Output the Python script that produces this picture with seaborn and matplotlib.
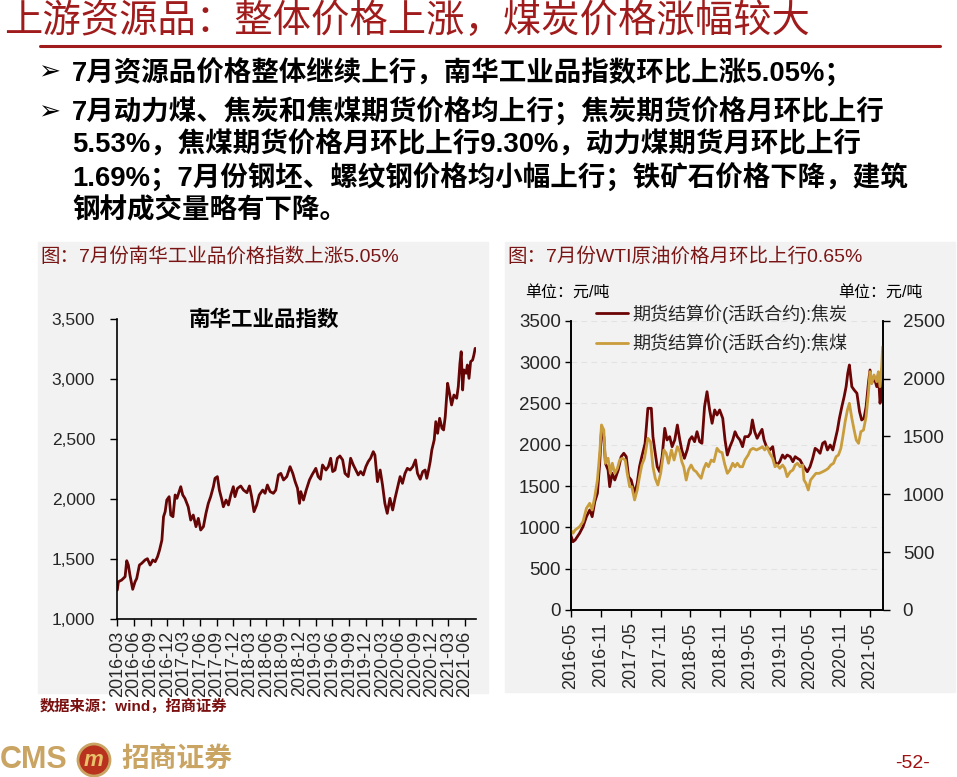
import matplotlib
matplotlib.use('Agg')
import matplotlib.pyplot as plt
import matplotlib.dates as mdates
from matplotlib.patches import Rectangle, Ellipse
from matplotlib.lines import Line2D
from matplotlib.ticker import FuncFormatter, MultipleLocator
import pandas as pd
import seaborn as sns

# ---------------- data ----------------
nanhua_dates = ['2016-03-01','2016-03-07','2016-03-25','2016-04-13','2016-04-22','2016-05-01','2016-05-10','2016-05-25','2016-06-07','2016-06-16',
 '2016-07-01','2016-07-14','2016-08-01','2016-08-14','2016-08-29','2016-09-13','2016-09-26','2016-10-09','2016-10-20','2016-11-02',
 '2016-11-11','2016-11-20','2016-11-29','2016-12-12','2016-12-21','2017-01-02','2017-01-14','2017-01-24','2017-02-02','2017-02-14',
 '2017-02-25','2017-03-09','2017-03-27','2017-04-10','2017-04-24','2017-05-09','2017-05-22','2017-06-04','2017-06-19','2017-07-03',
 '2017-07-16','2017-07-29','2017-08-13','2017-08-22','2017-09-04','2017-09-15','2017-09-28','2017-10-07','2017-10-22','2017-11-04',
 '2017-11-17','2017-12-01','2017-12-10','2017-12-24','2018-01-11','2018-01-26','2018-02-14','2018-02-28','2018-03-12','2018-03-25',
 '2018-04-09','2018-04-23','2018-05-12','2018-05-25','2018-06-07','2018-06-22','2018-07-10','2018-07-23','2018-08-07','2018-08-20',
 '2018-09-04','2018-09-22','2018-10-10','2018-10-25','2018-11-07','2018-11-20','2018-12-01','2018-12-08','2018-12-23','2019-01-07',
 '2019-01-25','2019-02-08','2019-03-01','2019-03-14','2019-03-27','2019-04-07','2019-04-26','2019-05-09','2019-05-22','2019-06-02',
 '2019-06-15','2019-06-28','2019-07-12','2019-07-27','2019-08-09','2019-08-27','2019-09-09','2019-09-24','2019-10-08','2019-10-21',
 '2019-11-03','2019-11-18','2019-12-02','2019-12-15','2019-12-28','2020-01-12','2020-01-21','2020-02-04','2020-02-19','2020-03-03',
 '2020-03-16','2020-03-29','2020-04-13','2020-04-28','2020-05-11','2020-05-24','2020-06-08','2020-06-21','2020-07-05','2020-07-18',
 '2020-08-02','2020-08-17','2020-09-01','2020-09-12','2020-09-27','2020-10-11','2020-10-24','2020-11-02','2020-11-12','2020-11-21',
 '2020-11-30','2020-12-13','2020-12-22','2021-01-01','2021-01-12','2021-01-25','2021-02-03','2021-02-12','2021-02-25','2021-03-06',
 '2021-03-19','2021-04-01','2021-04-16','2021-04-25','2021-05-04','2021-05-11','2021-05-19','2021-05-26','2021-06-07','2021-06-14',
 '2021-06-23','2021-07-02','2021-07-13','2021-07-20','2021-07-27']
nanhua_values = [1244,1313,1327,1355,1488,1452,1367,1250,1313,1340,
 1452,1467,1494,1505,1452,1494,1480,1522,1577,1660,
 1855,1897,1994,2022,1869,1855,2036,2008,2050,2105,
 2036,2008,1938,1827,1869,1772,1841,1744,1772,1883,
 1966,2022,2105,2175,2189,2077,2000,1938,1994,1953,
 2036,2105,2022,2091,2111,2077,2055,2111,2022,1897,
 1953,2036,2077,2050,2119,2064,2050,2077,2203,2216,
 2161,2189,2272,2216,2147,2092,1966,2064,1994,2077,
 2161,2203,2258,2189,2167,2286,2244,2272,2342,2231,
 2244,2342,2361,2328,2216,2189,2342,2286,2244,2203,
 2231,2203,2272,2314,2342,2397,2369,2147,2244,2119,
 1966,1883,2008,1911,2008,2092,2189,2133,2216,2258,
 2244,2272,2328,2216,2167,2231,2244,2175,2244,2314,
 2411,2494,2647,2550,2675,2592,2578,2689,2967,2897,
 2786,2869,2842,2939,3133,3230,2911,3078,3050,3119,
 3008,3147,3161,3203,3258]

coke_dates = ['2016-05-01','2016-05-15','2016-05-28','2016-06-24','2016-07-15','2016-08-05','2016-08-25','2016-09-09','2016-09-25','2016-10-11',
 '2016-10-25','2016-11-05','2016-11-19','2016-11-29','2016-12-15','2016-12-25','2017-01-09','2017-01-25','2017-02-15','2017-03-05',
 '2017-03-21','2017-04-05','2017-04-19','2017-05-05','2017-05-26','2017-06-11','2017-06-25','2017-07-09','2017-07-29','2017-08-15',
 '2017-09-05','2017-09-15','2017-09-29','2017-10-11','2017-10-26','2017-11-10','2017-11-26','2017-12-10','2017-12-26','2018-01-10',
 '2018-01-26','2018-02-11','2018-02-26','2018-03-10','2018-03-26','2018-04-12','2018-04-26','2018-05-11','2018-05-27','2018-06-11',
 '2018-06-27','2018-07-11','2018-07-27','2018-08-11','2018-08-27','2018-09-11','2018-09-27','2018-10-11','2018-10-27','2018-11-15',
 '2018-11-29','2018-12-13','2018-12-29','2019-01-15','2019-01-29','2019-02-12','2019-02-28','2019-03-16','2019-03-30','2019-04-19',
 '2019-05-03','2019-05-15','2019-05-29','2019-06-13','2019-06-29','2019-07-13','2019-07-25','2019-08-09','2019-08-29','2019-09-16',
 '2019-09-30','2019-10-13','2019-10-29','2019-11-15','2019-11-29','2019-12-13','2020-01-01','2020-01-17','2020-01-31','2020-02-14',
 '2020-03-01','2020-03-17','2020-03-31','2020-04-14','2020-05-01','2020-05-17','2020-06-01','2020-06-15','2020-07-01','2020-07-17',
 '2020-07-31','2020-08-15','2020-09-01','2020-09-17','2020-10-01','2020-10-15','2020-10-27','2020-11-11','2020-11-25','2020-12-07',
 '2020-12-17','2020-12-27','2021-01-11','2021-01-25','2021-02-11','2021-02-27','2021-03-12','2021-03-26','2021-04-08','2021-04-22',
 '2021-05-02','2021-05-12','2021-05-26','2021-06-12','2021-06-22','2021-07-02','2021-07-12','2021-07-18']
coke_values = [907,826,847,928,1008,1129,1210,1129,1310,1412,
 1775,2178,2097,1775,1694,1492,1654,1573,1694,1855,
 1896,1855,1613,1573,1412,1533,1734,1855,2017,2440,
 2440,2097,1896,1734,1673,1855,2198,2057,2097,1976,
 2057,2238,2057,1936,1835,1936,2057,2097,2036,2157,
 2036,2017,2460,2641,2420,2259,2420,2359,2420,2319,
 2057,1875,1976,2057,2157,2097,2057,1976,2097,2097,
 2138,2299,2157,2077,2138,2186,2057,1976,1936,1976,
 1794,1754,1794,1875,1835,1875,1855,1794,1855,1835,
 1815,1754,1714,1673,1734,1835,1956,1936,1896,2017,
 2036,1936,1996,1936,2057,2178,2319,2460,2581,2702,
 2863,2964,2702,2662,2622,2399,2299,2319,2460,2743,
 2904,2743,2823,2702,2863,2501,2662,2783]

coal_dates = ['2016-05-01','2016-05-15','2016-05-28','2016-06-24','2016-07-15','2016-08-05','2016-08-25','2016-09-09','2016-09-25','2016-10-11',
 '2016-10-25','2016-11-05','2016-11-19','2016-11-29','2016-12-15','2016-12-29','2017-01-10','2017-01-25','2017-02-10','2017-02-24',
 '2017-03-12','2017-03-30','2017-04-11','2017-04-26','2017-05-09','2017-05-26','2017-06-11','2017-06-25','2017-07-09','2017-07-25',
 '2017-08-15','2017-08-31','2017-09-15','2017-09-29','2017-10-15','2017-11-01','2017-11-21','2017-12-05','2017-12-19','2018-01-06',
 '2018-01-22','2018-02-11','2018-02-26','2018-03-10','2018-03-22','2018-04-06','2018-04-20','2018-05-06','2018-05-22','2018-06-06',
 '2018-06-20','2018-07-06','2018-07-23','2018-08-06','2018-08-20','2018-09-06','2018-09-22','2018-10-11','2018-10-27','2018-11-11',
 '2018-11-27','2018-12-13','2018-12-29','2019-01-15','2019-01-29','2019-02-12','2019-02-28','2019-03-16','2019-03-30','2019-04-19',
 '2019-05-03','2019-05-19','2019-06-09','2019-06-29','2019-07-15','2019-07-29','2019-08-12','2019-08-29','2019-09-16','2019-09-30',
 '2019-10-13','2019-10-29','2019-11-15','2019-11-29','2019-12-13','2020-01-01','2020-01-17','2020-01-31','2020-02-14','2020-03-01',
 '2020-03-17','2020-03-25','2020-04-06','2020-04-20','2020-05-04','2020-05-20','2020-06-06','2020-06-26','2020-07-17','2020-08-06',
 '2020-08-20','2020-09-05','2020-09-21','2020-10-07','2020-10-21','2020-11-05','2020-11-17','2020-12-01','2020-12-15','2020-12-27',
 '2021-01-11','2021-01-25','2021-02-07','2021-02-21','2021-03-07','2021-03-23','2021-04-08','2021-04-22','2021-05-02','2021-05-12',
 '2021-05-26','2021-06-12','2021-06-22','2021-07-02','2021-07-12','2021-07-18']
coal_values = [691,663,691,720,763,879,922,864,979,1123,
 1354,1599,1555,1268,1311,1181,1268,1181,1224,1296,
 1311,1296,1181,1065,1065,951,1037,1152,1253,1311,
 1484,1455,1238,1138,1080,1181,1383,1354,1268,1383,
 1296,1411,1368,1282,1238,1123,1210,1253,1210,1195,
 1167,1138,1224,1268,1238,1296,1282,1397,1368,1360,
 1260,1181,1210,1268,1238,1268,1238,1238,1296,1339,
 1383,1397,1383,1397,1411,1383,1411,1354,1311,1238,
 1253,1224,1253,1224,1152,1195,1210,1253,1268,1238,
 1253,1123,1095,1037,1123,1152,1181,1181,1195,1210,
 1224,1253,1268,1325,1339,1397,1498,1627,1728,1786,
 1656,1555,1469,1440,1541,1555,1670,1872,2059,1959,
 2031,1973,2059,1930,2102,2275]

coke_label = '期货结算价(活跃合约):焦炭'
coal_label = '期货结算价(活跃合约):焦煤'

# ---------------- style ----------------
sns.set_theme(style='white')
plt.rcParams['font.family'] = ['Liberation Sans', 'Noto Sans CJK SC', 'DejaVu Sans']
plt.rcParams['axes.unicode_minus'] = False

W, H = 957, 777
fig = plt.figure(figsize=(W / 100, H / 100), dpi=100)
fig.patch.set_facecolor('white')

def fx(px):
    return px / W

def fy(py):
    return 1 - py / H

RED = '#A01C1C'
DARK = '#7A1515'
NH = '#660505'
COKE = '#6B0404'
COAL = '#C99C3C'
GOLD = '#C9A462'
BG = '#F2F2F2'

# ---------------- header ----------------
fig.text(fx(4), fy(22), '上游资源品：整体价格上涨，煤炭价格涨幅较大', color=RED,
         fontsize=27.6, va='center', ha='left')
fig.add_artist(Line2D([fx(40), fx(940)], [fy(46), fy(46)], color=RED, lw=2.2))

for yb in (72, 112):
    fig.text(fx(38), fy(yb), '➢', family='DejaVu Sans', fontsize=19, va='center', color='black')

bullet_lines = [
    (72, '7月资源品价格整体继续上行，南华工业品指数环比上涨5.05%；'),
    (112, '7月动力煤、焦炭和焦煤期货价格均上行；焦炭期货价格月环比上行'),
    (145, '5.53%，焦煤期货价格月环比上行9.30%，动力煤期货月环比上行'),
    (178, '1.69%；7月份钢坯、螺纹钢价格均小幅上行；铁矿石价格下降，建筑'),
    (211, '钢材成交量略有下降。'),
]
for yb, txt in bullet_lines:
    fig.text(fx(72), fy(yb), txt, fontsize=19.8, weight='bold', va='center', color='black')

# ---------------- panels ----------------
fig.add_artist(Rectangle((fx(38), fy(693)), fx(488) - fx(38), (693 - 242) / H,
                         transform=fig.transFigure, color=BG, zorder=0))
fig.add_artist(Rectangle((fx(505), fy(692)), fx(955) - fx(505), (692 - 242) / H,
                         transform=fig.transFigure, color=BG, zorder=0))

fig.text(fx(40), fy(256), '图：7月份南华工业品价格指数上涨5.05%', color=DARK, fontsize=14, va='center')
fig.text(fx(507), fy(256), '图：7月份WTI原油价格月环比上行0.65%', color=DARK, fontsize=14, va='center')

# ---------------- left chart ----------------
df_nh = pd.DataFrame({'date': pd.to_datetime(nanhua_dates), 'value': nanhua_values})
ax1 = fig.add_axes([fx(117.3), fy(619.3), (475.7 - 117.3) / W, 300 / H])
ax1.set_facecolor('none')
sns.lineplot(data=df_nh, x='date', y='value', ax=ax1, color=NH, lw=2.0, legend=False)
ax1.set_xlim(pd.Timestamp('2016-03-01'), pd.Timestamp('2021-07-30'))
ax1.set_ylim(1000, 3500)
ax1.yaxis.set_major_locator(MultipleLocator(500))
ax1.yaxis.set_major_formatter(FuncFormatter(lambda v, p: f'{v:,.0f}'))
ax1.xaxis.set_major_locator(mdates.MonthLocator(bymonth=[3, 6, 9, 12]))
ax1.xaxis.set_major_formatter(mdates.DateFormatter('%Y-%m'))
ax1.tick_params(axis='y', direction='out', length=5, width=1, color='black', labelsize=12.5, pad=11, left=True)
ax1.tick_params(axis='x', direction='out', length=5, width=1, color='black', labelsize=13, pad=3, bottom=True)
for lab in ax1.get_xticklabels():
    lab.set_rotation(90)
for s in ('top', 'right'):
    ax1.spines[s].set_visible(False)
for s in ('left', 'bottom'):
    ax1.spines[s].set_color('black')
    ax1.spines[s].set_linewidth(1.2)
ax1.set_xlabel('')
ax1.set_ylabel('')
ax1.grid(False)
ax1.text(0.41, 0.995, '南华工业品指数', transform=ax1.transAxes, ha='center', va='center',
         fontsize=15.5, weight='bold', color='black')

# ---------------- right chart ----------------
df_coke = pd.DataFrame({'date': pd.to_datetime(coke_dates), 'value': coke_values})
df_coal = pd.DataFrame({'date': pd.to_datetime(coal_dates), 'value': coal_values})
ax2 = fig.add_axes([fx(570.7), fy(610), (883.3 - 570.7) / W, (610 - 320.7) / H])
ax2.set_facecolor('none')
sns.lineplot(data=df_coke, x='date', y='value', ax=ax2, color=COKE, lw=2.0, legend=False)
ax3 = ax2.twinx()
ax3.set_facecolor('none')
sns.lineplot(data=df_coal, x='date', y='value', ax=ax3, color=COAL, lw=2.0, legend=False)

xmin, xmax = pd.Timestamp('2016-05-01'), pd.Timestamp('2021-07-22')
for a in (ax2, ax3):
    a.set_xlim(xmin, xmax)
    a.set_xlabel('')
    a.set_ylabel('')
ax2.set_ylim(0, 3500)
ax3.set_ylim(0, 2500)
ax2.yaxis.set_major_locator(MultipleLocator(500))
ax3.yaxis.set_major_locator(MultipleLocator(500))
ax2.xaxis.set_major_locator(mdates.MonthLocator(bymonth=[5, 11]))
ax2.xaxis.set_major_formatter(mdates.DateFormatter('%Y-%m'))
ax2.yaxis.grid(True, color='#E2E2E2', linestyle=(0, (5, 4)), lw=0.8)
ax2.xaxis.grid(False)
ax3.grid(False)
ax2.tick_params(axis='y', direction='out', length=4, width=1, color='black', labelsize=13.5, pad=3, left=True)
ax2.tick_params(axis='x', direction='out', length=5, width=1, color='black', labelsize=13, pad=4, bottom=True)
ax3.tick_params(axis='y', direction='out', length=5, width=1, color='black', labelsize=13.5, pad=9, right=True)
for lab in ax2.get_xticklabels():
    lab.set_rotation(90)
for a in (ax2, ax3):
    a.spines['top'].set_visible(False)
    for s in ('left', 'bottom', 'right'):
        a.spines[s].set_color('black')
        a.spines[s].set_linewidth(1.2)

handles = [Line2D([], [], color=COKE, lw=2), Line2D([], [], color=COAL, lw=2)]
ax3.legend(handles, [coke_label, coal_label], loc='upper left',
           bbox_to_anchor=(fx(596), fy(304)), bbox_transform=fig.transFigure,
           frameon=False, fontsize=13, handlelength=1.75, handletextpad=0.25,
           labelspacing=0.55, borderpad=0, borderaxespad=0)

fig.text(fx(525), fy(292), '单位：元/吨', fontsize=11.5, va='center', color='black')
fig.text(fx(838), fy(292), '单位：元/吨', fontsize=11.5, va='center', color='black')

# ---------------- footer ----------------
fig.text(fx(40), fy(706), '数据来源：wind，招商证券', color='#7A1010', fontsize=11, weight='bold', va='center')
fig.text(fx(0), fy(760), 'CMS', color=GOLD, fontsize=22, weight='bold', va='center')
fig.add_artist(Ellipse((fx(94), fy(760)), 32 / W, 32 / H, transform=fig.transFigure,
                       facecolor='#B8321E', edgecolor=GOLD, lw=2))
fig.text(fx(94), fy(760), 'm', color='#E8C26A', fontsize=16, weight='bold', style='italic',
         ha='center', va='center')
fig.text(fx(121), fy(760), '招商证券', color=GOLD, fontsize=20, weight='bold', va='center')
fig.text(fx(895), fy(763), '-52-', color='#A01010', fontsize=14, va='center')

fig.savefig('out.png', dpi=100)
